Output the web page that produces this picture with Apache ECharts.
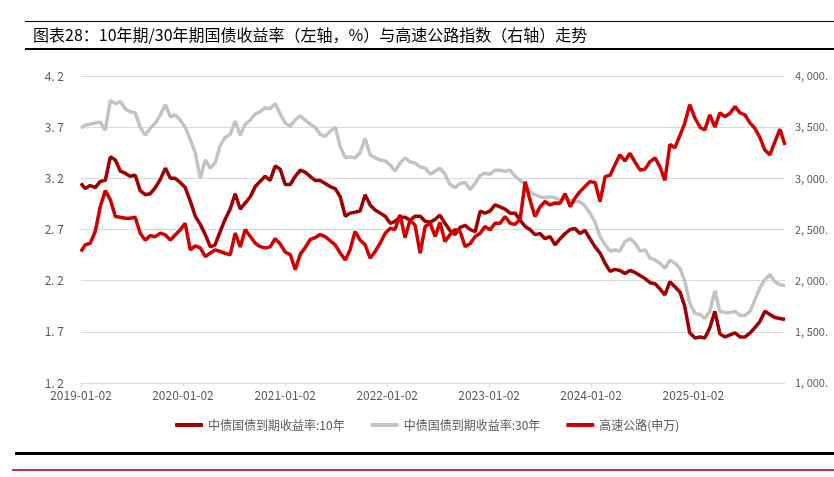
<!DOCTYPE html>
<html><head><meta charset="utf-8">
<script src="https://cdn.jsdelivr.net/npm/echarts@6/dist/echarts.min.js"></script>
<style>
html,body{margin:0;padding:0;background:#fff;overflow:hidden;}
#wrap{position:relative;width:834px;height:477px;overflow:hidden;}
#c{position:absolute;left:0;top:0;width:834px;height:477px;}
.rule{position:absolute;}
</style>
</head><body><div id="wrap"><div id="c"></div>
<div class="rule" style="left:25px;top:21px;width:809px;height:1px;background:#000"></div>
<div class="rule" style="left:25px;top:48px;width:809px;height:2px;background:#000"></div>
<div class="rule" style="left:15px;top:452px;width:819px;height:3px;background:#000"></div>
<div class="rule" style="left:12px;top:469px;width:822px;height:2px;background:#C0393B"></div>
</div>
<script>
const titleText = '图表28：10年期/30年期国债收益率（左轴，%）与高速公路指数（右轴）走势';
const seriesNames = ['中债国债到期收益率:10年', '中债国债到期收益率:30年', '高速公路(申万)'];
const xTickDates = ['2019-01-02','2020-01-02','2021-01-02','2022-01-02','2023-01-02','2024-01-02','2025-01-02'];
const leftTickLabels = ['1. 2','1. 7','2. 2','2. 7','3. 2','3. 7','4. 2'];
const rightTickLabels = ['1, 000.','1, 500.','2, 000.','2, 500.','3, 000.','3, 500.','4, 000.'];
const dates = [
'2019-01-02','2019-01-17','2019-02-04','2019-02-22','2019-03-12','2019-03-30','2019-04-17','2019-05-05','2019-05-23','2019-06-09','2019-06-27',
'2019-07-15','2019-08-02','2019-08-20','2019-09-07','2019-09-25','2019-10-13','2019-10-31','2019-11-18','2019-12-05','2019-12-23',
'2020-01-10','2020-01-28','2020-02-15','2020-03-04','2020-03-22','2020-04-09','2020-04-26','2020-05-14','2020-06-01','2020-06-19',
'2020-07-07','2020-07-25','2020-08-12','2020-08-30','2020-09-17','2020-10-04','2020-10-22','2020-11-09','2020-11-27','2020-12-15',
'2021-01-02','2021-01-20','2021-02-07','2021-02-25','2021-03-14','2021-04-01','2021-04-19','2021-05-07','2021-05-25','2021-06-12',
'2021-06-30','2021-07-18','2021-08-05','2021-08-22','2021-09-09','2021-09-27','2021-10-15','2021-11-02','2021-11-20','2021-12-08',
'2021-12-26','2022-01-13','2022-01-30','2022-02-17','2022-03-07','2022-03-25','2022-04-12','2022-04-30','2022-05-18','2022-06-05',
'2022-06-23','2022-07-10','2022-07-28','2022-08-15','2022-09-02','2022-09-20','2022-10-08','2022-10-26','2022-11-13','2022-12-01',
'2022-12-18','2023-01-05','2023-01-23','2023-02-10','2023-02-28','2023-03-18','2023-04-05','2023-04-23','2023-05-11','2023-05-28',
'2023-06-15','2023-07-03','2023-07-21','2023-08-08','2023-08-26','2023-09-13','2023-10-01','2023-10-19','2023-11-05','2023-11-23',
'2023-12-11','2023-12-29','2024-01-16','2024-02-03','2024-02-21','2024-03-10','2024-03-27','2024-04-14','2024-05-02','2024-05-20',
'2024-06-07','2024-06-25','2024-07-13','2024-07-31','2024-08-18','2024-09-04','2024-09-22','2024-10-10','2024-10-28','2024-11-15',
'2024-12-02','2024-12-20','2025-01-08','2025-01-26','2025-02-12','2025-03-02','2025-03-20','2025-04-07','2025-04-25','2025-05-13',
'2025-05-31','2025-06-18','2025-07-06','2025-07-24','2025-08-10','2025-08-28','2025-09-15','2025-10-03','2025-10-21','2025-11-08',
'2025-11-26'
];
const yield10 = [
3.15,
3.10,3.13,3.11,3.17,3.18,3.41,3.38,3.27,3.25,3.22,3.23,3.08,3.04,3.05,3.11,3.19,3.30,3.20,3.20,3.16,3.11,2.98,2.83,2.75,2.65,2.53,2.55,
2.68,2.80,2.90,3.05,2.90,2.96,3.02,3.12,3.17,3.22,3.18,3.32,3.29,3.14,3.14,3.22,3.28,3.26,3.22,3.18,3.18,3.15,3.12,3.10,3.02,2.83,2.86,2.87,2.88,
3.04,2.94,2.89,2.86,2.83,2.76,2.78,2.82,2.82,2.79,2.83,2.83,2.78,2.77,2.80,2.84,2.76,2.69,2.65,2.72,2.74,2.70,2.68,2.88,2.86,2.88,2.94,2.92,2.90,
2.86,2.86,2.79,2.73,2.70,2.65,2.66,2.61,2.63,2.55,2.61,2.66,2.70,2.71,2.66,2.69,2.61,2.53,2.47,2.37,2.29,2.31,2.30,2.27,2.30,2.28,2.25,2.22,2.18,
2.17,2.12,2.06,2.19,2.14,2.09,1.95,1.69,1.64,1.65,1.64,1.74,1.90,1.68,1.65,1.67,1.69,1.65,1.65,1.69,1.74,1.80,1.90,1.87,1.84,1.83,1.82
];
const yield30 = [
3.69,
3.72,3.73,3.74,3.75,3.67,3.96,3.93,3.95,3.88,3.85,3.84,3.70,3.62,3.69,3.74,3.82,3.92,3.80,3.82,3.77,3.70,3.58,3.45,3.20,3.38,3.30,3.35,
3.52,3.60,3.63,3.76,3.62,3.73,3.77,3.83,3.85,3.89,3.88,3.93,3.83,3.74,3.71,3.77,3.81,3.77,3.73,3.70,3.63,3.61,3.66,3.70,3.51,3.40,3.41,3.40,3.45,
3.59,3.43,3.40,3.38,3.37,3.33,3.27,3.35,3.40,3.36,3.35,3.31,3.30,3.24,3.27,3.30,3.24,3.14,3.11,3.15,3.16,3.09,3.15,3.23,3.25,3.24,3.28,3.28,3.27,
3.28,3.22,3.18,3.14,3.07,3.04,3.02,3.01,3.02,3.01,2.99,3.01,2.99,2.97,2.97,2.93,2.86,2.77,2.63,2.55,2.49,2.50,2.49,2.58,2.61,2.57,2.49,2.50,2.42,
2.40,2.37,2.32,2.40,2.37,2.32,2.20,1.98,1.88,1.87,1.83,1.90,2.10,1.90,1.89,1.89,1.90,1.86,1.86,1.90,2.01,2.13,2.21,2.26,2.19,2.16,2.15
];
const highway = [
2285,
2350,2366,2480,2724,2880,2790,2626,2620,2610,2610,2620,2464,2395,2440,2430,2464,2447,2398,2447,2496,2561,2300,2340,2320,2235,2270,2301,
2285,2268,2252,2464,2330,2500,2431,2366,2333,2320,2330,2410,2360,2280,2255,2106,2260,2320,2400,2420,2450,2430,2390,2350,2270,2203,2300,2480,2398,
2350,2219,2285,2366,2464,2512,2500,2643,2420,2594,2540,2268,2529,2560,2431,2570,2382,2450,2500,2480,2333,2360,2431,2464,2529,2496,2561,2561,2626,
2561,2550,2600,2968,2790,2626,2720,2773,2740,2760,2757,2850,2724,2805,2870,2920,2968,2960,2773,3017,3030,3131,3229,3170,3245,3160,3082,3090,3164,
3200,3115,2980,3330,3300,3420,3538,3720,3587,3500,3473,3620,3500,3640,3603,3636,3701,3640,3619,3540,3489,3400,3277,3230,3359,3480,3326
];

const ts = s => { const p = s.split('-').map(Number); return Date.UTC(p[0], p[1]-1, p[2]); };
const pad = n => (n < 10 ? '0' : '') + n;
const fmtDate = v => { const d = new Date(v); return d.getUTCFullYear() + '-' + pad(d.getUTCMonth()+1) + '-' + pad(d.getUTCDate()); };
const pairs = arr => dates.map((d, i) => [ts(d), arr[i]]);
const xTicks = xTickDates.map(ts);
const font = '"Noto Sans CJK SC", "Noto Sans", sans-serif';
const labelColor = '#595959';

const chart = echarts.init(document.getElementById('c'), null, {renderer: 'canvas'});
chart.setOption({
  animation: false,
  backgroundColor: 'transparent',
  textStyle: {fontFamily: font},
  title: {text: titleText, left: 33, top: 27, padding: 0, textStyle: {fontSize: 16, fontWeight: 'normal', color: '#000', fontFamily: font}},
  legend: {
    left: 170, top: 414,
    itemWidth: 28, itemHeight: 4, itemGap: 26,
    icon: 'roundRect',
    textStyle: {fontSize: 12, color: labelColor, fontFamily: font},
    data: seriesNames
  },
  grid: {left: 81, right: 49, top: 76, height: 307},
  xAxis: {
    type: 'value',
    min: ts(dates[0]), max: ts(dates[dates.length-1]),
    axisLine: {show: true, onZero: false, lineStyle: {color: '#D9D9D9'}},
    axisTick: {show: true, customValues: xTicks, length: 4, lineStyle: {color: '#D9D9D9'}},
    axisLabel: {customValues: xTicks, formatter: v => fmtDate(v), color: labelColor, fontSize: 12, margin: 6, fontFamily: font},
    splitLine: {show: false}
  },
  yAxis: [
    {
      type: 'value', min: 1.2, max: 4.2, interval: 0.5,
      axisLine: {show: false}, axisTick: {show: false},
      axisLabel: {formatter: v => leftTickLabels[Math.round((v - 1.2) / 0.5)], color: labelColor, fontSize: 12, margin: 17, fontFamily: font},
      splitLine: {lineStyle: {color: '#D9D9D9', width: 1}}
    },
    {
      type: 'value', min: 1000, max: 4000, interval: 500,
      axisLine: {show: false}, axisTick: {show: false},
      axisLabel: {formatter: v => rightTickLabels[Math.round((v - 1000) / 500)], color: labelColor, fontSize: 11, margin: 10, fontFamily: font},
      splitLine: {show: false}
    }
  ],
  series: [
    {name: seriesNames[0], type: 'line', yAxisIndex: 0, data: pairs(yield10), showSymbol: false,
     lineStyle: {color: '#9E0000', width: 3.5}, itemStyle: {color: '#9E0000'}, z: 3},
    {name: seriesNames[1], type: 'line', yAxisIndex: 0, data: pairs(yield30), showSymbol: false,
     lineStyle: {color: '#C3C3C3', width: 3.5}, itemStyle: {color: '#C3C3C3'}, z: 2},
    {name: seriesNames[2], type: 'line', yAxisIndex: 1, data: pairs(highway), showSymbol: false,
     lineStyle: {color: '#D10000', width: 3.5}, itemStyle: {color: '#D10000'}, z: 4}
  ]
});
</script>
</body></html>
